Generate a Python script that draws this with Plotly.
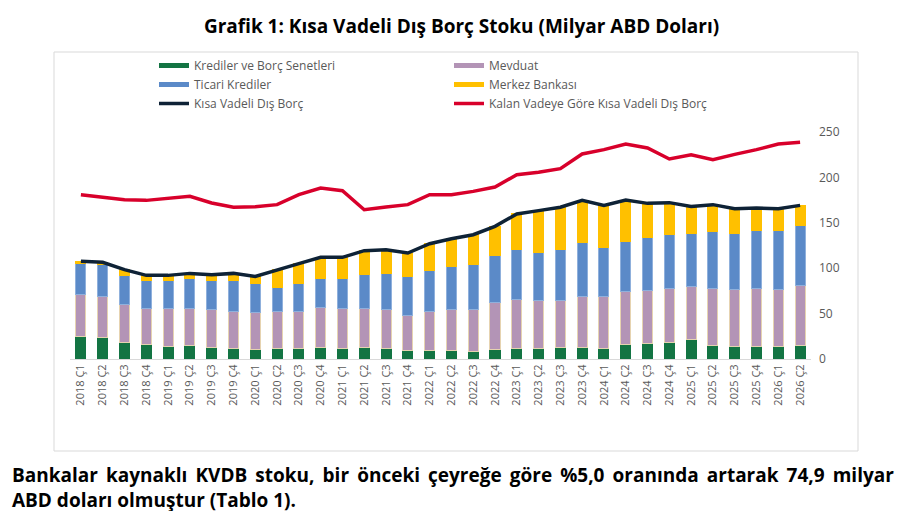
import plotly.graph_objects as go

# quarters on the x axis
quarters = [f"{y} Ç{q}" for y in range(2018, 2026) for q in range(1, 5)] + ["2026 Ç1", "2026 Ç2"]

# stacked components (milyar ABD doları)
krediler = [25.0, 24.2, 18.7, 15.8, 13.9, 14.7, 13.2, 11.4, 10.3, 11.4, 12.1, 12.8,
            12.1, 12.8, 11.4, 9.5, 9.5, 9.5, 8.8, 10.3, 11.4, 12.1, 12.8, 12.8,
            12.1, 16.5, 17.3, 18.7, 21.3, 14.7, 13.6, 14.3, 13.9, 15.4]
mevduat = [45.8, 44.1, 41.1, 39.3, 41.2, 40.4, 41.1, 41.1, 40.7, 41.1, 40.4, 43.4,
           43.3, 42.6, 43.3, 38.6, 43.0, 44.5, 45.9, 51.4, 54.3, 52.2, 51.5, 56.2,
           56.9, 57.3, 58.3, 58.4, 58.7, 62.8, 62.8, 63.2, 62.5, 65.7]
ticari = [34.9, 35.6, 32.0, 31.2, 31.2, 33.4, 32.7, 33.8, 32.0, 25.7, 31.2, 33.0,
          33.8, 37.5, 39.6, 43.3, 45.1, 48.4, 49.9, 52.5, 54.7, 53.2, 56.8, 58.8,
          54.0, 55.8, 57.7, 60.2, 58.0, 62.4, 61.6, 63.8, 64.9, 65.7]
merkez = [1.9, 2.6, 6.6, 5.8, 5.8, 5.8, 5.9, 8.0, 8.0, 20.2, 21.3, 22.8,
          22.8, 26.4, 26.1, 25.3, 29.4, 30.1, 32.3, 31.9, 39.3, 45.9, 46.0, 46.9,
          46.2, 45.5, 38.1, 34.9, 30.1, 30.1, 27.6, 25.0, 24.3, 22.4]

# lines
kvdb = [107.6, 106.5, 98.4, 92.1, 92.1, 94.3, 92.9, 94.3, 91.0, 98.4, 105.0, 112.0,
        112.0, 119.3, 120.4, 116.7, 127.0, 132.5, 136.9, 146.1, 159.7, 163.4, 167.1, 174.7,
        169.2, 175.1, 171.4, 172.2, 168.1, 170.0, 165.6, 166.3, 165.6, 169.2]
kalan = [181.0, 178.4, 175.5, 174.7, 176.6, 179.2, 171.8, 167.1, 167.8, 170.0, 181.0, 188.3,
         185.4, 164.4, 167.4, 170.0, 181.0, 181.0, 184.6, 189.4, 203.0, 205.6, 209.6, 225.8,
         230.6, 236.8, 232.4, 220.3, 225.0, 219.5, 225.4, 230.6, 236.8, 238.6]

W, H = 907, 511
ML, MR, MT, MB = 62, 104, 124, 160
PW, PH = W - ML - MR, H - MT - MB

def px_x(x):
    return (x - ML) / PW

def px_y(y):
    return (H - MB - y) / PH

fig = go.Figure()

bars = [
    ("Krediler ve Borç Senetleri", krediler, "#137443", "#137443"),
    ("Mevduat", mevduat, "#b394b6", "#e6d3b0"),
    ("Ticari Krediler", ticari, "#5b8ac8", "#8fb0dc"),
    ("Merkez Bankası", merkez, "#ffc000", "#ffc000"),
]
for name, vals, col, edge in bars:
    fig.add_trace(go.Bar(x=quarters, y=vals, name=name, marker_color=col,
                         marker_line=dict(color=edge, width=1), showlegend=False))

# legend keys: wide flat swatches like the original
for name, vals, col, edge in bars:
    fig.add_trace(go.Scatter(x=[None], y=[None], mode="lines", name=name,
                             line=dict(color=col, width=5)))

fig.add_trace(go.Scatter(x=quarters, y=kvdb, name="Kısa Vadeli Dış Borç", mode="lines",
                         line=dict(color="#0e2236", width=3.5)))
fig.add_trace(go.Scatter(x=quarters, y=kalan, name="Kalan Vadeye Göre Kısa Vadeli Dış Borç",
                         mode="lines", line=dict(color="#d8002b", width=3.5)))

fig.update_layout(
    width=W, height=H,
    margin=dict(l=ML, r=MR, t=MT, b=MB),
    barmode="stack", bargap=0.54,
    plot_bgcolor="white", paper_bgcolor="white",
    font=dict(family="Open Sans", color="#595959"),
    title=dict(text="<b>Grafik 1: Kısa Vadeli Dış Borç Stoku (Milyar ABD Doları)</b>",
               x=0.5, xref="container", xanchor="center",
               y=1 - 18 / H, yref="container", yanchor="middle",
               font=dict(size=19, color="black", family="Open Sans")),
    legend=dict(orientation="h", x=px_x(146), y=px_y(43), xanchor="left", yanchor="top",
                traceorder="normal", entrywidth=250, itemwidth=30,
                font=dict(size=12, color="#595959"), bgcolor="rgba(0,0,0,0)"),
    showlegend=True,
)
fig.update_xaxes(showgrid=False, showline=True, linecolor="#d9d9d9", linewidth=1,
                 ticks="", tickangle=-90, tickfont=dict(size=11, color="#595959"))
fig.update_yaxes(side="right", range=[0, 250], tickvals=[0, 50, 100, 150, 200, 250],
                 showgrid=False, showline=False, zeroline=False, ticks="",
                 ticklabelstandoff=7, tickfont=dict(size=12, color="#595959"))

# chart frame
fig.add_shape(type="rect", xref="paper", yref="paper",
              x0=px_x(46), x1=px_x(850), y0=px_y(443), y1=px_y(44),
              line=dict(color="#d9d9d9", width=1))

# justified first line: a thin space widens each word gap
line1 = "Bankalar kaynaklı KVDB stoku, bir önceki çeyreğe göre %5,0 oranında artarak 74,9 milyar"
line1 = line1.replace(" ", " \u2009")
fig.add_annotation(
    text=f"<b>{line1}</b><br><b>ABD doları olmuştur (Tablo 1).</b>",
    xref="paper", yref="paper", x=px_x(2), y=px_y(452), xanchor="left", yanchor="top",
    align="left", showarrow=False,
    font=dict(size=19, color="black", family="Open Sans"),
)

fig.write_html("out.html")
